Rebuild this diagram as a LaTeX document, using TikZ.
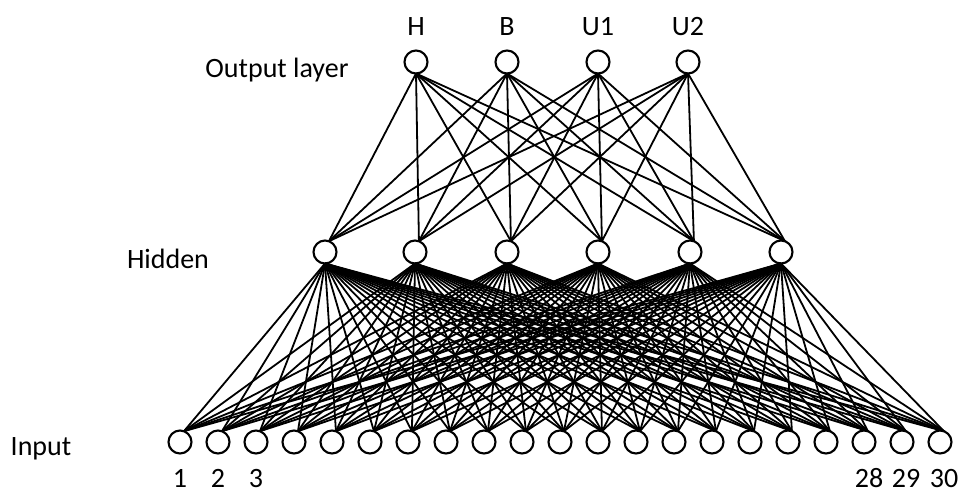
\documentclass[tikz,border=0pt]{standalone}
\usepackage{fontspec}
\setmainfont{Carlito}
\usepackage{tikz}

\begin{document}
\begin{tikzpicture}[x=1pt,y=-1pt,
  neuron/.style={circle, draw, line width=2.1pt, minimum size=23pt, inner sep=0pt, outer sep=0pt},
  lbl/.style={anchor=base, inner sep=0pt, font=\fontsize{28}{32}\selectfont},
  wire/.style={line width=1.8pt}]
\useasboundingbox (0,0) rectangle (960,493);

% output layer
\node[neuron] (o1) at (416,62) {};
\node[neuron] (o2) at (507,62) {};
\node[neuron] (o3) at (598,62) {};
\node[neuron] (o4) at (688,62) {};
\node[lbl] (lH) at (416,35) {H};
\node[lbl] (lB) at (507,35) {B};
\node[lbl] (lU1) at (598,35) {U1};
\node[lbl] (lU2) at (688,35) {U2};
\node[lbl] (outlbl) at (277,77) {Output layer};

% hidden layer
\node[neuron] (h1) at (325,252) {};
\node[neuron] (h2) at (415,252) {};
\node[neuron] (h3) at (507,252) {};
\node[neuron] (h4) at (598,252) {};
\node[neuron] (h5) at (690,252) {};
\node[neuron] (h6) at (781,252) {};
\node[lbl] (hidlbl) at (168,268) {Hidden};

% input layer
\foreach \i in {1,...,21}
  \node[neuron] (in\i) at ({180+38*(\i-1)},442) {};
\node[lbl] (inlbl) at (41,455) {Input};
\node[lbl] (n1) at (180,487) {1};
\node[lbl] (n2) at (218,487) {2};
\node[lbl] (n3) at (256,487) {3};
\node[lbl] (n28) at (869,487) {28};
\node[lbl] (n29) at (906,487) {29};
\node[lbl] (n30) at (944,487) {30};

% connections
\foreach \o in {1,...,4}
  \foreach \h in {1,...,6}
    \draw[wire] (o\o.south) -- (h\h.70);
\foreach \h in {1,...,6}
  \foreach \i in {1,...,21}
    \draw[wire] (h\h.south) -- (in\i.70);
\end{tikzpicture}
\end{document}
